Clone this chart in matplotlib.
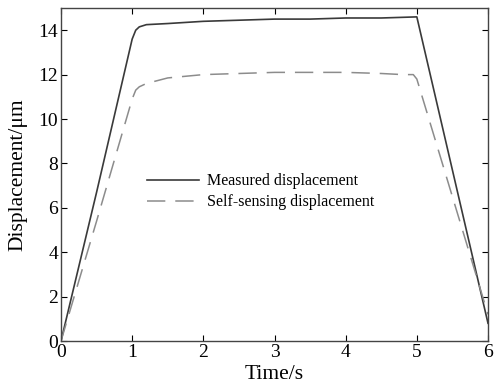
import matplotlib.pyplot as plt

plt.rcParams['font.family'] = ['Liberation Serif', 'DejaVu Serif']

# measured displacement
t_meas = [0.0, 0.5, 1.0, 1.05, 1.1, 1.2, 1.5, 2.0, 2.5, 3.0, 3.5, 4.0, 4.5, 5.0, 5.5, 6.0]
d_meas = [0.0, 6.7, 13.6, 14.0, 14.15, 14.25, 14.3, 14.4, 14.45, 14.5, 14.5, 14.55, 14.55, 14.6, 7.7, 0.8]

# self-sensing displacement
t_self = [0.0, 0.5, 1.0, 1.05, 1.1, 1.2, 1.5, 2.0, 2.5, 3.0, 3.5, 4.0, 4.5, 4.8, 4.95, 5.0, 5.5, 6.0]
d_self = [0.0, 5.4, 10.9, 11.3, 11.45, 11.6, 11.85, 12.0, 12.05, 12.1, 12.1, 12.1, 12.05, 12.0, 12.0, 11.8, 6.5, 1.2]

fig = plt.figure(figsize=(4.94, 3.88), dpi=100)
ax = fig.add_axes([61 / 494, 47 / 388, 427 / 494, 333 / 388])

ax.plot(t_meas, d_meas, color='#3a3a3a', lw=1.2, label='Measured displacement')
ax.plot(t_self, d_self, color='#8c8c8c', lw=1.1, dashes=(12, 6.5), label='Self-sensing displacement')

ax.set_xlim(0, 6)
ax.set_ylim(0, 15)
ax.set_xticks(range(0, 7))
ax.set_yticks(range(0, 15, 2))
ax.tick_params(direction='in', top=True, right=True, labelsize=14, length=4, pad=2)
for s in ax.spines.values():
    s.set_color('#444444')
    s.set_linewidth(1.0)

ax.set_xlabel('Time/s', fontsize=15.5, labelpad=3)
ax.set_ylabel('Displacement/μm', fontsize=15.5, labelpad=8)

ax.legend(loc='upper left', bbox_to_anchor=(0.182, 0.527), frameon=False, borderpad=0,
          fontsize=11.5, handlelength=3.3, handletextpad=0.5, labelspacing=0.3)

fig.savefig('out.png', dpi=100)
